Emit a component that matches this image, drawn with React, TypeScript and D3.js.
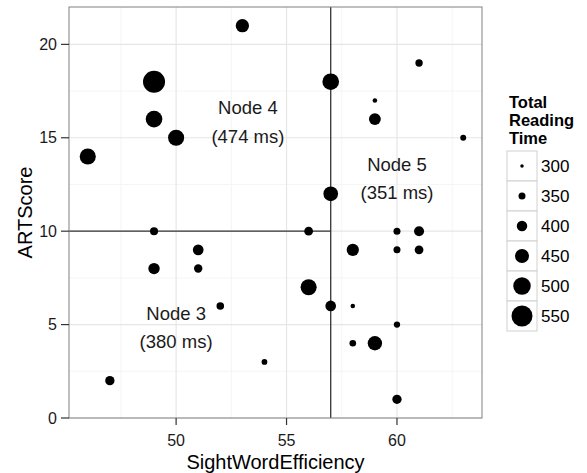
import React from 'react';
import * as d3 from 'd3';

const WIDTH = 587;
const HEIGHT = 473;
const PANEL = { left: 69, top: 7, right: 482, bottom: 418 };
const FONT = '"Liberation Sans", Arial, Helvetica, sans-serif';

// sight word efficiency, ART score, total reading time (ms)
const SWE = [49, 49, 50, 46, 53, 57, 61, 59, 59, 63, 57, 49, 51, 49, 51, 52, 47, 56, 60, 61, 58, 60, 61, 56, 57, 58, 60, 58, 59, 54, 60];
const ART = [18, 16, 15, 14, 21, 18, 19, 17, 16, 15, 12, 10, 9, 8, 8, 6, 2, 10, 10, 10, 9, 9, 9, 7, 6, 6, 5, 4, 4, 3, 1];
const TIME = [565, 488, 480, 480, 440, 488, 355, 315, 420, 335, 460, 365, 403, 412, 370, 358, 383, 375, 350, 393, 425, 350, 375, 480, 402, 315, 340, 345, 455, 332, 383];

const X_TICKS = [50, 55, 60];
const Y_TICKS = [0, 5, 10, 15, 20];
const X_MINOR = [47.5, 52.5, 57.5, 62.5];
const Y_MINOR = [2.5, 7.5, 12.5, 17.5];
const SIZE_BREAKS = [300, 350, 400, 450, 500, 550];
const LEGEND_TITLE = ['Total', 'Reading', 'Time'];

// tree splits: SWE < 57, then ART < 10 on the left
const SPLIT_X = 57;
const SPLIT_Y = 10;

const NODE_LABELS = [
  { name: 'Node 4', ms: '(474 ms)', x: 53.25, y1: 16.6, y2: 15.05 },
  { name: 'Node 5', ms: '(351 ms)', x: 60, y1: 13.55, y2: 12.05 },
  { name: 'Node 3', ms: '(380 ms)', x: 50, y1: 5.6, y2: 4.1 },
];

export default function App() {
  const x = d3.scaleLinear().domain([45.15, 63.85]).range([PANEL.left, PANEL.right]);
  const y = d3.scaleLinear().domain([0, 22]).range([PANEL.bottom, PANEL.top]);
  const r = d3.scaleLinear().domain([300, 550]).range([1.75, 10.5]);

  const points = SWE.map((s, i) => ({ s, a: ART[i], t: TIME[i] }));

  const legendX = 507;
  const legendTop = 151;
  const keySize = 30;

  return (
    <svg
      width={WIDTH}
      height={HEIGHT}
      style={{ position: 'absolute', left: 0, top: 0, background: '#fff' }}
      fontFamily={FONT}
    >
      <rect x={0} y={0} width={WIDTH} height={HEIGHT} fill="#fff" />
      {/* grid */}
      {X_MINOR.map((v) => (
        <line key={`xm${v}`} x1={x(v)} x2={x(v)} y1={PANEL.top} y2={PANEL.bottom} stroke="#f5f5f5" strokeWidth={1} />
      ))}
      {Y_MINOR.map((v) => (
        <line key={`ym${v}`} x1={PANEL.left} x2={PANEL.right} y1={y(v)} y2={y(v)} stroke="#f5f5f5" strokeWidth={1} />
      ))}
      {X_TICKS.map((v) => (
        <line key={`xg${v}`} x1={x(v)} x2={x(v)} y1={PANEL.top} y2={PANEL.bottom} stroke="#e6e6e6" strokeWidth={1.2} />
      ))}
      {Y_TICKS.map((v) => (
        <line key={`yg${v}`} x1={PANEL.left} x2={PANEL.right} y1={y(v)} y2={y(v)} stroke="#e6e6e6" strokeWidth={1.2} />
      ))}

      {/* split lines */}
      <line x1={x(SPLIT_X)} x2={x(SPLIT_X)} y1={PANEL.top} y2={PANEL.bottom} stroke="#333" strokeWidth={1.3} />
      <line x1={PANEL.left} x2={x(SPLIT_X)} y1={y(SPLIT_Y)} y2={y(SPLIT_Y)} stroke="#333" strokeWidth={1.3} />

      {/* points */}
      {points.map((p, i) => (
        <circle key={i} cx={x(p.s)} cy={y(p.a)} r={r(p.t)} fill="#000" />
      ))}

      {/* node labels */}
      {NODE_LABELS.map((n) => (
        <g key={n.name} fontSize={18.5} fill="#1a1a1a" textAnchor="middle">
          <text x={x(n.x)} y={y(n.y1)} dy="0.35em">{n.name}</text>
          <text x={x(n.x)} y={y(n.y2)} dy="0.35em">{n.ms}</text>
        </g>
      ))}

      {/* panel border */}
      <rect
        x={PANEL.left}
        y={PANEL.top}
        width={PANEL.right - PANEL.left}
        height={PANEL.bottom - PANEL.top}
        fill="none"
        stroke="#808080"
        strokeWidth={1}
      />

      {/* axes */}
      {X_TICKS.map((v) => (
        <g key={`xt${v}`}>
          <line x1={x(v)} x2={x(v)} y1={PANEL.bottom} y2={PANEL.bottom + 7} stroke="#333" strokeWidth={1.2} />
          <text x={x(v)} y={PANEL.bottom + 22} dy="0.35em" textAnchor="middle" fontSize={16} fill="#1a1a1a">
            {v}
          </text>
        </g>
      ))}
      {Y_TICKS.map((v) => (
        <g key={`yt${v}`}>
          <line x1={PANEL.left - 8} x2={PANEL.left} y1={y(v)} y2={y(v)} stroke="#333" strokeWidth={1.2} />
          <text x={PANEL.left - 12} y={y(v)} dy="0.35em" textAnchor="end" fontSize={16} fill="#1a1a1a">
            {v}
          </text>
        </g>
      ))}
      <text x={(PANEL.left + PANEL.right) / 2} y={462} dy="0.35em" textAnchor="middle" fontSize={20} fill="#000">
        SightWordEfficiency
      </text>
      <text
        transform={`translate(25, ${(PANEL.top + PANEL.bottom) / 2}) rotate(-90)`}
        dy="0.35em"
        textAnchor="middle"
        fontSize={20}
        fill="#000"
      >
        ARTScore
      </text>

      {/* legend */}
      <g fontSize={16.5} fontWeight="bold" fill="#000">
        {LEGEND_TITLE.map((t, i) => (
          <text key={t} x={legendX + 2} y={108 + i * 18}>{t}</text>
        ))}
      </g>
      {SIZE_BREAKS.map((b, i) => {
        const ky = legendTop + i * keySize;
        return (
          <g key={`lg${b}`}>
            <rect x={legendX} y={ky} width={keySize} height={keySize} fill="#fff" stroke="#d0d0d0" strokeWidth={1} />
            <circle cx={legendX + keySize / 2} cy={ky + keySize / 2} r={r(b)} fill="#000" />
            <text x={legendX + keySize + 4} y={ky + keySize / 2} dy="0.35em" fontSize={17} fill="#000">
              {b}
            </text>
          </g>
        );
      })}
    </svg>
  );
}
